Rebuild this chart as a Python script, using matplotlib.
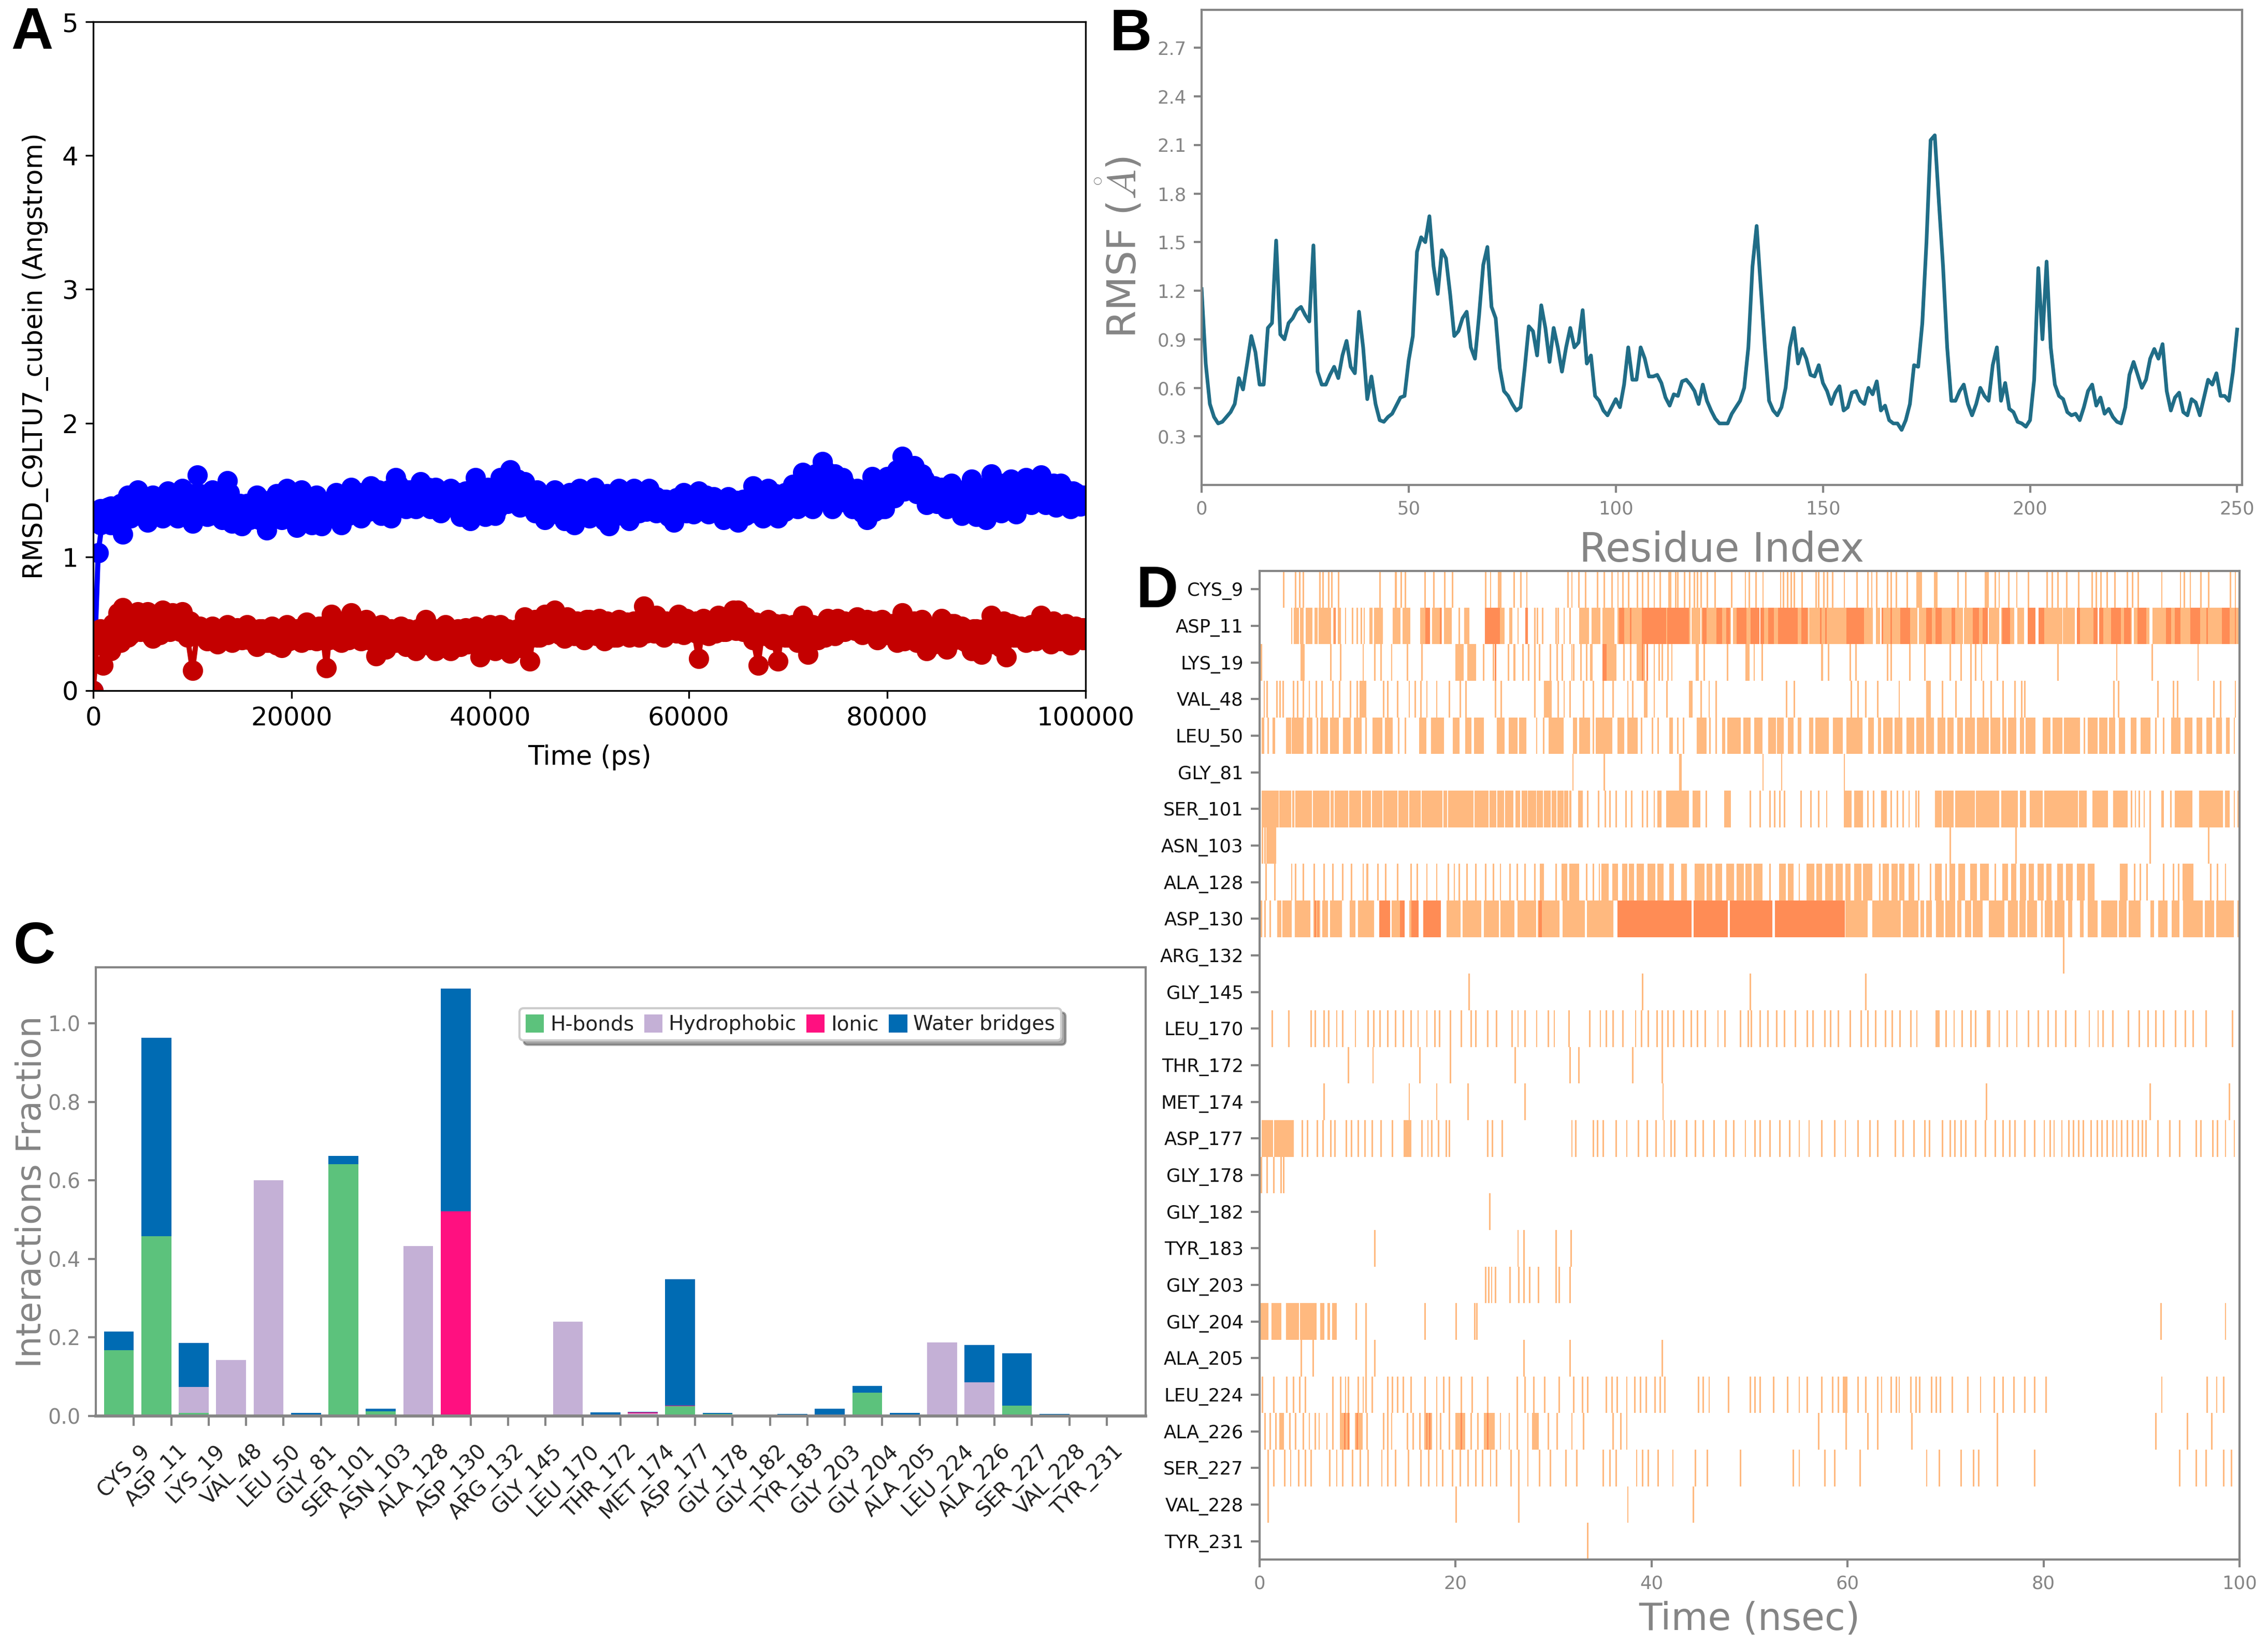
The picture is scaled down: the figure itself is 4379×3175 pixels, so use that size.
from matplotlib import pyplot as plt
from matplotlib.transforms import ScaledTranslation
import numpy as np

# RMSD over time, one value every 500 ps, 5 ns per row
rmsd_blue = [
    0.00, 1.03, 1.31, 1.37, 1.25, 1.34, 1.17, 1.46, 1.32, 1.50,
    1.35, 1.26, 1.46, 1.36, 1.29, 1.49, 1.38, 1.29, 1.51, 1.36,
    1.25, 1.61, 1.42, 1.30, 1.50, 1.38, 1.28, 1.57, 1.25, 1.37,
    1.23, 1.40, 1.31, 1.46, 1.35, 1.20, 1.38, 1.47, 1.28, 1.51,
    1.36, 1.22, 1.50, 1.35, 1.24, 1.46, 1.23, 1.40, 1.31, 1.48,
    1.24, 1.38, 1.52, 1.36, 1.29, 1.42, 1.53, 1.38, 1.31, 1.45,
    1.29, 1.59, 1.43, 1.36, 1.50, 1.36, 1.56, 1.42, 1.36, 1.52,
    1.33, 1.42, 1.51, 1.37, 1.30, 1.49, 1.27, 1.59, 1.38, 1.30,
    1.46, 1.31, 1.59, 1.45, 1.65, 1.43, 1.37, 1.56, 1.40, 1.33,
    1.47, 1.28, 1.39, 1.50, 1.34, 1.27, 1.48, 1.24, 1.51, 1.36,
    1.29, 1.52, 1.40, 1.27, 1.23, 1.38, 1.51, 1.36, 1.27, 1.51,
    1.33, 1.42, 1.51, 1.38, 1.34, 1.43, 1.30, 1.26, 1.38, 1.48,
    1.36, 1.32, 1.49, 1.38, 1.32, 1.45, 1.36, 1.28, 1.45, 1.37,
    1.26, 1.43, 1.35, 1.53, 1.40, 1.29, 1.51, 1.37, 1.29, 1.45,
    1.36, 1.54, 1.36, 1.63, 1.46, 1.36, 1.58, 1.71, 1.50, 1.36,
    1.45, 1.59, 1.42, 1.36, 1.51, 1.33, 1.28, 1.60, 1.42, 1.36,
    1.60, 1.48, 1.65, 1.75, 1.52, 1.62, 1.47, 1.62, 1.39, 1.50,
    1.40, 1.52, 1.36, 1.55, 1.40, 1.31, 1.50, 1.58, 1.30, 1.48,
    1.28, 1.62, 1.45, 1.33, 1.52, 1.58, 1.32, 1.47, 1.59, 1.39,
    1.50, 1.61, 1.39, 1.50, 1.37, 1.55, 1.40, 1.36, 1.48, 1.38,
    1.45]
rmsd_red = [
    0.00, 0.45, 0.19, 0.40, 0.50, 0.58, 0.62, 0.40, 0.52, 0.59,
    0.47, 0.59, 0.39, 0.50, 0.60, 0.46, 0.58, 0.47, 0.59, 0.40,
    0.15, 0.44, 0.47, 0.37, 0.48, 0.35, 0.42, 0.49, 0.36, 0.47,
    0.38, 0.49, 0.40, 0.33, 0.46, 0.36, 0.48, 0.34, 0.32, 0.49,
    0.40, 0.46, 0.36, 0.51, 0.42, 0.37, 0.48, 0.17, 0.57, 0.43,
    0.36, 0.47, 0.58, 0.42, 0.37, 0.53, 0.40, 0.26, 0.49, 0.31,
    0.46, 0.36, 0.48, 0.33, 0.44, 0.30, 0.47, 0.53, 0.38, 0.30,
    0.44, 0.49, 0.30, 0.42, 0.33, 0.47, 0.37, 0.48, 0.25, 0.41,
    0.49, 0.30, 0.49, 0.38, 0.28, 0.45, 0.32, 0.55, 0.22, 0.53,
    0.40, 0.57, 0.44, 0.60, 0.42, 0.39, 0.52, 0.41, 0.50, 0.38,
    0.53, 0.42, 0.54, 0.37, 0.48, 0.40, 0.53, 0.45, 0.40, 0.52,
    0.40, 0.63, 0.50, 0.43, 0.52, 0.40, 0.51, 0.44, 0.57, 0.42,
    0.52, 0.45, 0.24, 0.54, 0.41, 0.50, 0.56, 0.44, 0.52, 0.60,
    0.60, 0.44, 0.52, 0.38, 0.19, 0.47, 0.53, 0.38, 0.22, 0.50,
    0.40, 0.49, 0.36, 0.56, 0.27, 0.49, 0.38, 0.49, 0.54, 0.42,
    0.54, 0.45, 0.50, 0.46, 0.55, 0.42, 0.53, 0.45, 0.38, 0.53,
    0.42, 0.50, 0.36, 0.58, 0.44, 0.48, 0.36, 0.53, 0.30, 0.47,
    0.36, 0.54, 0.31, 0.50, 0.40, 0.48, 0.36, 0.30, 0.46, 0.27,
    0.42, 0.56, 0.46, 0.32, 0.25, 0.50, 0.40, 0.48, 0.36, 0.49,
    0.37, 0.56, 0.43, 0.35, 0.49, 0.37, 0.50, 0.34, 0.48, 0.40,
    0.47]

# the frames in between, per ns: middle, upper and lower part of each band
rmsd_blue_mid = [
    1.30, 1.32, 1.33, 1.36, 1.38, 1.38, 1.38, 1.39, 1.39, 1.38,
    1.40, 1.39, 1.38, 1.40, 1.36, 1.34, 1.35, 1.33, 1.36, 1.38,
    1.36, 1.35, 1.34, 1.33, 1.36, 1.38, 1.39, 1.40, 1.40, 1.42,
    1.44, 1.45, 1.45, 1.44, 1.43, 1.42, 1.42, 1.40, 1.40, 1.42,
    1.44, 1.47, 1.50, 1.47, 1.42, 1.39, 1.38, 1.38, 1.38, 1.38,
    1.38, 1.38, 1.38, 1.39, 1.39, 1.39, 1.38, 1.38, 1.37, 1.38,
    1.40, 1.40, 1.38, 1.36, 1.36, 1.36, 1.38, 1.40, 1.40, 1.40,
    1.42, 1.46, 1.50, 1.53, 1.50, 1.47, 1.45, 1.42, 1.40, 1.42,
    1.47, 1.55, 1.58, 1.52, 1.46, 1.44, 1.42, 1.42, 1.43, 1.42,
    1.45, 1.47, 1.46, 1.48, 1.50, 1.48, 1.48, 1.48, 1.45, 1.43]
rmsd_blue_upper = [
    1.36, 1.38, 1.40, 1.43, 1.45, 1.44, 1.44, 1.45, 1.46, 1.47,
    1.47, 1.48, 1.46, 1.48, 1.40, 1.38, 1.43, 1.42, 1.44, 1.46,
    1.45, 1.44, 1.43, 1.40, 1.45, 1.47, 1.48, 1.48, 1.50, 1.50,
    1.54, 1.50, 1.52, 1.52, 1.49, 1.47, 1.48, 1.46, 1.50, 1.52,
    1.53, 1.56, 1.58, 1.52, 1.50, 1.44, 1.46, 1.46, 1.46, 1.47,
    1.48, 1.47, 1.46, 1.47, 1.48, 1.47, 1.45, 1.43, 1.44, 1.45,
    1.46, 1.46, 1.43, 1.43, 1.42, 1.42, 1.46, 1.49, 1.47, 1.48,
    1.50, 1.58, 1.62, 1.65, 1.62, 1.55, 1.50, 1.47, 1.52, 1.54,
    1.56, 1.65, 1.68, 1.58, 1.53, 1.48, 1.48, 1.50, 1.52, 1.52,
    1.55, 1.55, 1.53, 1.54, 1.55, 1.55, 1.55, 1.52, 1.49, 1.46]
rmsd_blue_lower = [
    1.24, 1.24, 1.26, 1.29, 1.31, 1.32, 1.31, 1.32, 1.32, 1.31,
    1.32, 1.31, 1.30, 1.31, 1.29, 1.28, 1.28, 1.27, 1.30, 1.33,
    1.30, 1.28, 1.28, 1.29, 1.30, 1.31, 1.34, 1.34, 1.34, 1.34,
    1.37, 1.39, 1.40, 1.39, 1.38, 1.37, 1.37, 1.33, 1.33, 1.35,
    1.36, 1.40, 1.44, 1.42, 1.36, 1.33, 1.32, 1.30, 1.30, 1.30,
    1.31, 1.30, 1.31, 1.33, 1.33, 1.34, 1.33, 1.33, 1.31, 1.33,
    1.36, 1.36, 1.34, 1.31, 1.31, 1.31, 1.33, 1.34, 1.34, 1.34,
    1.38, 1.41, 1.43, 1.44, 1.42, 1.41, 1.40, 1.38, 1.34, 1.36,
    1.44, 1.49, 1.52, 1.46, 1.42, 1.40, 1.38, 1.36, 1.37, 1.36,
    1.37, 1.40, 1.42, 1.45, 1.44, 1.44, 1.43, 1.42, 1.41, 1.40]
rmsd_red_mid = [
    0.42, 0.38, 0.42, 0.46, 0.50, 0.48, 0.48, 0.50, 0.50, 0.50,
    0.46, 0.43, 0.42, 0.42, 0.42, 0.42, 0.43, 0.42, 0.42, 0.42,
    0.42, 0.44, 0.44, 0.44, 0.44, 0.45, 0.46, 0.44, 0.40, 0.41,
    0.42, 0.40, 0.40, 0.40, 0.40, 0.40, 0.41, 0.40, 0.40, 0.39,
    0.40, 0.41, 0.40, 0.44, 0.46, 0.48, 0.50, 0.50, 0.48, 0.48,
    0.46, 0.46, 0.46, 0.46, 0.46, 0.48, 0.50, 0.48, 0.48, 0.49,
    0.48, 0.47, 0.48, 0.48, 0.50, 0.50, 0.47, 0.46, 0.45, 0.45,
    0.44, 0.46, 0.44, 0.44, 0.45, 0.48, 0.49, 0.49, 0.48, 0.48,
    0.44, 0.42, 0.44, 0.42, 0.41, 0.42, 0.43, 0.42, 0.40, 0.40,
    0.41, 0.45, 0.45, 0.43, 0.43, 0.44, 0.45, 0.44, 0.43, 0.43]
rmsd_red_upper = [
    0.46, 0.46, 0.52, 0.56, 0.56, 0.55, 0.55, 0.55, 0.54, 0.52,
    0.48, 0.46, 0.44, 0.44, 0.45, 0.45, 0.46, 0.46, 0.46, 0.46,
    0.46, 0.48, 0.48, 0.50, 0.50, 0.52, 0.50, 0.48, 0.46, 0.46,
    0.46, 0.46, 0.46, 0.48, 0.46, 0.46, 0.46, 0.45, 0.45, 0.44,
    0.45, 0.46, 0.46, 0.50, 0.53, 0.54, 0.55, 0.55, 0.52, 0.53,
    0.52, 0.52, 0.51, 0.51, 0.52, 0.54, 0.56, 0.52, 0.52, 0.54,
    0.52, 0.52, 0.52, 0.53, 0.54, 0.55, 0.51, 0.50, 0.50, 0.49,
    0.48, 0.52, 0.47, 0.48, 0.50, 0.52, 0.52, 0.52, 0.52, 0.51,
    0.48, 0.48, 0.52, 0.48, 0.46, 0.47, 0.50, 0.47, 0.46, 0.46,
    0.48, 0.52, 0.49, 0.47, 0.48, 0.50, 0.52, 0.48, 0.47, 0.47]
rmsd_red_lower = [
    0.34, 0.30, 0.36, 0.42, 0.44, 0.42, 0.42, 0.44, 0.44, 0.44,
    0.42, 0.39, 0.38, 0.38, 0.39, 0.38, 0.38, 0.36, 0.36, 0.37,
    0.37, 0.38, 0.38, 0.38, 0.37, 0.38, 0.40, 0.38, 0.34, 0.35,
    0.37, 0.36, 0.35, 0.34, 0.35, 0.35, 0.36, 0.35, 0.34, 0.33,
    0.34, 0.36, 0.35, 0.38, 0.40, 0.42, 0.45, 0.44, 0.43, 0.43,
    0.41, 0.41, 0.40, 0.41, 0.41, 0.43, 0.44, 0.43, 0.43, 0.44,
    0.43, 0.42, 0.43, 0.44, 0.45, 0.45, 0.43, 0.41, 0.39, 0.40,
    0.39, 0.41, 0.40, 0.40, 0.41, 0.44, 0.45, 0.46, 0.44, 0.43,
    0.40, 0.37, 0.38, 0.36, 0.35, 0.36, 0.38, 0.37, 0.35, 0.34,
    0.35, 0.38, 0.40, 0.39, 0.38, 0.39, 0.40, 0.39, 0.38, 0.38]

rmsf = [
    1.21, 0.75, 0.50, 0.42, 0.38, 0.39, 0.42, 0.45, 0.50, 0.66,
    0.59, 0.75, 0.92, 0.82, 0.62, 0.62, 0.97, 1.00, 1.51, 0.93,
    0.90, 1.00, 1.03, 1.08, 1.10, 1.05, 1.01, 1.48, 0.70, 0.62,
    0.62, 0.68, 0.73, 0.66, 0.80, 0.89, 0.73, 0.69, 1.07, 0.85,
    0.53, 0.67, 0.50, 0.40, 0.39, 0.42, 0.44, 0.49, 0.54, 0.55,
    0.77, 0.92, 1.44, 1.53, 1.50, 1.66, 1.35, 1.18, 1.45, 1.40,
    1.18, 0.92, 0.95, 1.03, 1.07, 0.85, 0.78, 1.05, 1.36, 1.47,
    1.10, 1.03, 0.72, 0.58, 0.55, 0.50, 0.46, 0.48, 0.72, 0.98,
    0.95, 0.80, 1.11, 0.97, 0.76, 0.97, 0.85, 0.70, 0.85, 0.97,
    0.85, 0.88, 1.08, 0.75, 0.80, 0.55, 0.52, 0.46, 0.43, 0.48,
    0.53, 0.48, 0.62, 0.85, 0.65, 0.65, 0.85, 0.78, 0.67, 0.67,
    0.68, 0.63, 0.54, 0.49, 0.56, 0.55, 0.64, 0.65, 0.62, 0.58,
    0.50, 0.62, 0.52, 0.46, 0.41, 0.38, 0.38, 0.38, 0.44, 0.48,
    0.52, 0.60, 0.85, 1.35, 1.60, 1.22, 0.85, 0.52, 0.46, 0.43,
    0.48, 0.60, 0.85, 0.97, 0.75, 0.84, 0.78, 0.68, 0.67, 0.74,
    0.63, 0.58, 0.50, 0.57, 0.61, 0.46, 0.48, 0.57, 0.58, 0.52,
    0.50, 0.60, 0.56, 0.64, 0.46, 0.49, 0.40, 0.38, 0.38, 0.34,
    0.40, 0.50, 0.74, 0.73, 1.00, 1.50, 2.13, 2.16, 1.75, 1.35,
    0.85, 0.52, 0.52, 0.58, 0.62, 0.50, 0.43, 0.50, 0.60, 0.55,
    0.52, 0.74, 0.85, 0.52, 0.63, 0.47, 0.45, 0.39, 0.38, 0.36,
    0.40, 0.65, 1.34, 0.90, 1.38, 0.85, 0.62, 0.55, 0.53, 0.45,
    0.43, 0.44, 0.40, 0.48, 0.58, 0.62, 0.49, 0.54, 0.44, 0.47,
    0.42, 0.39, 0.38, 0.48, 0.68, 0.76, 0.68, 0.60, 0.65, 0.78,
    0.84, 0.78, 0.87, 0.58, 0.46, 0.54, 0.57, 0.45, 0.43, 0.53,
    0.51, 0.43, 0.54, 0.65, 0.62, 0.69, 0.55, 0.55, 0.52, 0.70,
    0.96]

residues = ['CYS_9', 'ASP_11', 'LYS_19', 'VAL_48', 'LEU_50', 'GLY_81', 'SER_101', 'ASN_103',
            'ALA_128', 'ASP_130', 'ARG_132', 'GLY_145', 'LEU_170', 'THR_172', 'MET_174',
            'ASP_177', 'GLY_178', 'GLY_182', 'TYR_183', 'GLY_203', 'GLY_204', 'ALA_205',
            'LEU_224', 'ALA_226', 'SER_227', 'VAL_228', 'TYR_231']
hbonds = [0.168, 0.458, 0.008, 0, 0, 0.002, 0.642, 0.012, 0, 0.002, 0, 0, 0, 0.002, 0.002,
          0.025, 0.005, 0, 0, 0.002, 0.060, 0, 0, 0, 0.027, 0, 0]
hydrophobic = [0, 0, 0.066, 0.142, 0.600, 0, 0, 0, 0.433, 0, 0, 0, 0.240, 0, 0.004,
               0, 0, 0, 0, 0, 0, 0, 0.188, 0.086, 0, 0, 0]
ionic = [0, 0, 0, 0, 0, 0, 0, 0, 0, 0.520, 0, 0, 0, 0, 0.003,
         0.002, 0, 0, 0, 0, 0, 0, 0, 0, 0, 0, 0]
water_bridges = [0.047, 0.505, 0.112, 0, 0, 0.006, 0.020, 0.006, 0, 0.567, 0, 0.003, 0, 0.007, 0.001,
                 0.321, 0.003, 0, 0.005, 0.016, 0.017, 0.008, 0, 0.095, 0.133, 0.005, 0]

# contact timeline in ns: a float is a single frame, a tuple is a (start, end) stretch
contacts = [
    # CYS_9
    [2.4, 3.6, 4.0, 4.4, 6.1, 6.4, 7.0, 7.3, 8.0, 12.2, (13.8, 14.0), 14.4, 14.8, 16.8, 17.7, 18.8, 19.6,
     23.0, 23.5, (24.3, 24.7), 25.9, 26.6, 27.2, 31.4, 31.8, 32.5, 33.2, 34.4, 35.1, 35.9, 36.5, 37.0, 37.6,
     38.5, 39.0, 39.6, 40.2, 40.8, (41.7, 42.0), 42.4, 42.6, 43.3, (43.8, 44.0), 44.3, 44.6, 45.0, 45.6, 46.4,
     48.1, 49.5, 49.9, 50.6, 51.3, 53.1, 53.4, 53.8, 54.2, 54.5, 55.3, 56.7, 57.0, 57.5, 57.9, 58.4, 59.6,
     60.9, 62.0, 62.4, 62.9, 64.0, 64.4, 64.9, 66.0, (67.0, 67.6), (68.8, 69.2), 71.2, 72.0, (74.0, 74.4), 75.0, 75.4,
     76.4, 77.2, 78.4, 80.3, 80.8, 81.4, 82.3, 83.5, 84.9, 85.3, 85.8, 86.4, 87.2, 88.5, 89.0, 89.6, 92.0,
     93.9, 94.3, 94.9, 96.0, 96.8, 99.0, 99.5],
    # ASP_11
    [3.2, (3.5, 4.0), (4.1, 4.5), (4.7, 5.4), (5.6, 5.9), (6.0, 7.3), 7.5, (8.0, 8.3), 8.7, 9.4, 9.9, 10.3, 10.6,
     (11.2, 11.5), (11.7, 12.6), (13.6, 14.4), (14.6, 15.4), (16.4, 17.4), (17.6, 18.6), (18.8, 19.6), 20.3, (20.9, 21.4),
     (23.0, 25.0), (25.5, 25.8), 26.3, (27.1, 27.4), 28.0, 28.3, 28.8, 30.2, 30.4, 31.0, 31.6, (32.6, 33.6), (33.9, 34.8),
     (35.0, 36.2), (36.5, 44.0), (44.1, 45.0), (45.1, 48.1), (48.3, 51.0), (51.1, 56.0), (56.1, 60.4), (60.5, 62.6),
     (62.9, 63.3), (63.6, 67.1), (67.3, 68.0), (68.4, 71.8), (71.9, 74.3), (74.4, 75.5), (75.7, 77.0), (77.3, 78.0),
     (78.4, 79.2), (79.5, 81.9), (82.0, 83.2), (83.4, 85.5), (85.7, 89.0), (89.2, 90.8), (91.1, 100.0)],
    # LYS_19
    [0.1, (4.2, 4.6), 7.2, 8.2, 10.5, 11.7, 12.3, 13.4, 15.0, 16.5, (20.0, 20.8), (21.2, 22.1), 22.8, 23.8,
     24.0, 25.3, (25.9, 26.1), 26.8, 27.4, 28.0, 28.5, 29.6, 30.3, 30.8, 31.8, 32.0, 32.7, 33.3, (33.7, 34.0),
     (35.0, 36.4), 37.1, 37.8, (38.5, 39.3), 40.2, 40.7, 41.0, 41.6, 42.0, (44.5, 44.8), 45.3, 47.7, (49.6, 50.0),
     50.4, 51.2, (57.3, 57.5), 58.0, 60.2, 60.8, 64.0, 64.4, 66.3, 67.8, 70.4, 71.5, 72.5, 73.0, 73.6, 75.2,
     81.4, 87.4, 91.0, 95.7],
    # VAL_48
    [0.4, 0.7, 1.7, 2.0, (2.3, 2.5), 3.4, 3.8, 4.4, 5.0, 5.7, 6.3, 7.4, 8.1, 9.2, 9.9, (10.2, 10.9), 12.6, 13.0, 14.0,
     15.2, 15.8, 16.4, 17.0, 18.0, 19.3, 20.4, 21.0, 24.0, 24.6, 28.0, (29.0, 29.8), 30.4, 31.0, 31.6, 33.0, 34.0,
     35.0, 36.0, 37.5, 38.0, (39.2, 39.6), 40.2, 41.5, (43.8, 44.2), 45.0, 45.8, 46.5, 53.7, 54.5, 60.3, 61.0, 61.8,
     63.0, 65.2, (68.0, 68.5), 69.6, 71.0, 72.5, 73.8, 74.6, 75.8, 77.0, 77.7, 78.0, 87.1, 87.6, 91.6, 93.2, 93.6, 97.3,
     98.0, 99.5],
    # LEU_50
    [(0.2, 0.5), 0.8, (1.3, 1.6), (2.7, 3.2), (3.3, 4.5), (4.8, 5.4), 5.8, (6.2, 7.0), (7.2, 8.1), (8.5, 9.3), (9.6, 10.4),
     10.8, (11.5, 12.5), (12.8, 13.6), 14.1, 14.8, (16.3, 17.0), (17.5, 18.8), (19.7, 20.4), (21.0, 21.6), (21.9, 22.9),
     (24.2, 25.0), (25.4, 26.3), (26.5, 27.2), 28.2, 28.9, (29.5, 31.0), (32.0, 32.4), (32.6, 33.7), 34.0, (34.3, 36.0), (36.5, 37.2),
     (37.5, 38.6), 38.9, 40.0, 40.6, (41.8, 42.2), 42.6, 43.2, (44.6, 45.6), 45.9, 46.5, (47.2, 47.5), (47.75, 49.1),
     (49.35, 50.1), (50.5, 51.3), (51.9, 52.7), (52.8, 53.5), (53.9, 54.5), (54.9, 55.3), (56.1, 56.5), (56.7, 58.1), (58.5, 59.5),
     (59.9, 61.5), (62.1, 62.7), (63.1, 63.4), (63.65, 64.6), (64.8, 65.6), (66.0, 66.8), (67.0, 67.8), (68.0, 68.8), (69.2, 70.0),
     (70.2, 70.8), (71.2, 71.8), (72.0, 73.0), (73.2, 74.4), (74.6, 75.6), (75.8, 76.2), (76.4, 77.2), (77.6, 78.0), (78.15, 79.15),
     (79.9, 80.7), (80.9, 81.9), (82.1, 83.7), 84.1, (84.5, 85.5), (85.7, 86.5), (86.7, 87.3), (87.7, 88.3), (88.9, 89.5), (89.9, 90.9),
     91.4, 92.2, (93.0, 94.0), (94.4, 95.2), (95.6, 96.2), (96.6, 97.2), (97.6, 98.2), (98.6, 99.0), 99.4],
    # GLY_81
    [31.9, 35.1, 42.8, 42.9, 51.3, 53.2, 59.6],
    # SER_101
    [(0.2, 1.95), (2.0, 3.25), (3.35, 3.55), (3.65, 5.35), (5.45, 7.15), (7.25, 7.55), (7.65, 9.05), (9.15, 10.35),
     (10.45, 11.35), (11.45, 12.55), (12.65, 14.05), (14.15, 15.15), (15.25, 16.45), (16.55, 18.65), (18.75, 19.15),
     (19.25, 21.85), (21.95, 23.35), (23.45, 24.15), (24.25, 24.95), (25.05, 25.9), (26.1, 26.6), (26.75, 27.3),
     (27.4, 28.2), (28.3, 28.9), (29.0, 29.7), (29.8, 30.3), (30.4, 31.0), (31.1, 31.5), (31.6, 31.8),
     (32.5, 33.0), 33.4, 34.5, 35.2, 35.7, 36.3, 37.3, 37.9, 39.0, 39.5, 40.2, (40.6, 41.0),
     (41.5, 43.8), (44.2, 45.0), 45.5, (47.4, 48.1), 50.0, 51.0, 52.0, 52.5, 53.0, 53.5, 55.2, 56.2, 57.0, 57.8,
     (59.6, 60.4), (60.7, 61.6), 62.0, 62.6, (63.4, 64.0), 64.4, 65.0, 65.6, 66.2, 66.9, 67.2, (68.9, 69.6), (69.7, 70.8),
     (71.0, 73.0), (73.1, 75.5), (75.7, 77.4), (77.6, 78.2), (78.6, 79.9), (80.1, 83.5), (83.6, 84.4), (85.0, 86.6), (87.1, 88.6),
     88.9, 89.3, 89.7, 90.2, 90.8, (92.0, 92.3), 92.9, (93.4, 95.2), (95.9, 98.3), (98.5, 99.0), 99.4, 99.8],
    # ASN_103
    [0.2, 0.5, (0.7, 1.7), 70.4, 77.1, 90.8, 96.8],
    # ALA_128
    [0.6, 1.5, 3.2, 3.6, 4.4, 5.5, 6.5, 7.4, 8.4, 9.3, 10.5, (10.9, 11.1), 12.0, 12.8, 14.0, 15.4, 16.0, 17.0, 18.0, 19.2,
     19.8, 20.3, 21.1, 22.0, 23.0, 23.8, 24.5, 25.5, 26.2, 27.0, 28.0, (28.6, 29.0), 30.2, (30.8, 31.4), (31.6, 32.6), 33.3,
     34.0, 34.6, (34.9, 35.6), (36.0, 36.6), (37.0, 37.5), (37.7, 38.2), (38.5, 39.2), (39.6, 40.4), (40.6, 41.2), (41.8, 42.3), (43.0, 43.6),
     (44.4, 45.4), (45.6, 46.2), (46.5, 47.2), (47.6, 48.4), (48.7, 49.4), (49.6, 50.2), (50.4, 51.3), 52.0, (53.0, 53.7), (53.9, 54.5), 55.0,
     (55.8, 56.6), (56.8, 57.4), (57.7, 58.5), (58.8, 59.5), (59.8, 60.3), (60.7, 61.4), (61.6, 62.5), 63.2, (63.6, 64.2), (64.5, 65.1),
     (65.3, 65.8), (66.2, 66.8), 67.2, 68.4, (68.9, 69.6), 70.0, (70.4, 71.0), (71.3, 72.0), (72.5, 73.2), (73.5, 74.4), 75.0, (75.8, 76.4),
     (76.7, 77.2), (77.6, 78.2), (78.5, 79.0), (79.4, 80.0), (80.3, 80.8), (81.4, 82.0), (82.3, 83.0), (83.4, 84.2), (84.5, 85.2), (87.8, 88.6),
     89.2, 89.8, 90.5, 92.2, 93.2, 93.7, (94.2, 95.3), 97.0, 97.7, 98.5, 99.9],
    # ASP_130
    [0.1, 0.5, 1.0, (1.8, 2.2), (2.3, 3.3), (3.6, 5.2), (5.5, 6.2), (6.4, 7.0), (7.2, 8.4), (9.2, 9.8), (10.05, 11.7), (12.2, 13.3),
     (13.5, 14.8), (15.3, 16.2), (16.7, 18.5), (19.1, 20.5), (20.7, 22.6), (22.9, 24.4), (24.6, 26.0), (26.3, 28.2), (28.4, 30.6), (30.9, 33.2),
     (33.4, 36.1), (36.5, 44.1), (44.3, 47.8), (48.0, 52.3), (52.6, 59.7), (59.8, 62.06), (62.54, 65.44), (65.64, 67.23), (67.43, 67.82),
     (68.02, 68.62), (69.01, 69.81), (70.0, 71.0), (71.2, 71.6), (72.0, 72.6), (72.8, 73.8), (74.4, 76.0), (76.4, 77.36), (77.56, 78.15),
     (78.35, 79.35), (79.74, 79.94), (80.14, 80.94), (81.13, 82.13), (82.53, 82.92), (83.72, 84.1), (84.5, 85.5), (85.9, 87.5), (87.7, 88.5),
     (88.7, 89.9), (90.9, 91.3), (91.7, 92.66), (93.06, 93.85), (94.25, 96.24), (96.44, 97.43), (97.63, 99.4), 99.8],
    # ARG_132
    [82.0],
    # GLY_145
    [21.3, 39.0, 50.0, 61.8],
    # LEU_170
    [1.2, 2.9, 5.2, 5.6, 6.5, 7.0, 7.8, 8.4, 9.7, 11.0, 11.6, 12.2, 13.0, 13.8, 14.6, 15.4, 16.1, 17.0, 17.8, 18.3, 19.4,
     20.5, 21.5, 22.0, 23.2, 24.1, 25.7, 26.3, 27.0, 28.2, 29.4, 30.0, 31.5, 33.6, 34.7, 35.3, 36.0, 37.0, 38.3, 38.9, 39.6, 40.5,
     41.0, 41.6, 42.2, 43.2, 44.0, 44.6, 45.4, 46.7, 47.4, 49.0, 49.8, 50.1, 51.0, 51.8, 52.7, 53.5, 54.6, 55.8, 56.4, 57.6, 58.2,
     59.0, 60.2, 61.3, 62.0, 62.8, 63.8, 64.5, 65.3, 66.4, 67.0, (69.0, 69.4), 70.0, 70.8, 71.6, 72.5, 73.0, (74.2, 74.6), 75.4, 76.2, 77.2, 78.4,
     79.4, 80.4, 81.2, 82.2, 83.2, 84.6, 85.5, 86.0, 87.0, 88.6, 89.7, 90.6, 91.4, 92.2, 93.4, 94.4, 95.2, 96.5, 99.2, 99.9],
    # THR_172
    [9.0, 11.5, 16.3, 19.4, 26.0, 31.6, 32.5, 38.0, 41.0],
    # MET_174
    [6.5, 15.2, 18.0, 21.2, 27.0, 41.1, 74.1, 90.8, 98.9],
    # ASP_177
    [(0.2, 1.4), (1.5, 3.5), 4.3, 4.8, 5.8, 6.4, 7.2, 7.6, 8.8, 9.3, 10.0, 10.7, 11.4, 12.3, 13.5, (14.7, 15.5), 16.5, 17.1, 17.5, 18.2,
     19.0, 19.3, 23.2, 23.7, 24.7, 31.8, 32.2, 34.0, 34.4, 35.0, 36.3, 37.4, 38.6, 39.5, 40.4, 41.2, 41.9, 42.3, 43.5, 44.4, 45.2, 46.3,
     47.5, 48.3, 49.5, 50.5, 51.0, 52.0, 53.0, 54.0, 55.0, 56.0, 57.3, 58.6, 59.7, 61.0, 62.2, 63.0, 64.8, 65.6, 66.7, 67.8, 68.3,
     69.6, 70.4, 70.9, 71.5, 72.0, 73.0, 74.0, 75.0, 75.8, 76.5, 77.0, 78.0, 79.0, 80.0, 80.6, 81.0, 81.8, 82.5, 83.0, 83.5, 84.0, 84.8,
     85.4, 85.9, 86.4, 87.0, 87.4, 87.9, 88.5, 89.0, 89.6, 90.0, 90.4, 91.6, 92.8, 93.8, 95.5, 96.0, 97.2, 97.7, 98.5, 99.4],
    # GLY_178
    [0.1, 0.7, 1.4, 2.1, 2.4],
    # GLY_182
    [23.4],
    # TYR_183
    [11.7, 26.3, 26.9, 30.2, 31.7],
    # GLY_203
    [23.0, 23.3, 23.6, 24.0, 25.5, 26.4, 26.9, 27.5, 28.4, 30.2, 30.5, 31.6],
    # GLY_204
    [(0.0, 0.9), (1.2, 2.2), (2.7, 4.0), (4.1, 5.8), (6.2, 6.6), (6.9, 7.2), (7.4, 7.9), 9.8, 10.8, 16.8, 20.0, 21.9, 22.1, 91.9, 98.5],
    # ALA_205
    [4.2, 5.4, 10.8, 11.7, 26.9, 31.6, 41.0],
    # LEU_224
    [0.2, 1.4, 2.7, 3.4, 4.0, 4.6, 7.4, 8.2, 8.7, 9.0, 10.0, 10.5, 10.8, 11.4, 13.0, 13.5, 14.0, 14.6, 15.4, 16.8, 18.0, 18.7, 19.3, 20.5, 21.6, 23.2, 26.2,
     27.0, 27.9, 29.0, 30.5, 32.0, 32.9, 33.4, 35.3, 35.9, 36.4, 37.4, 38.2, 38.8, 39.4, 40.3, 40.8, 41.3, 44.7, 45.2, 45.8, 47.8, 50.0, 50.5, 51.0, 52.4, 53.8, 55.0,
     55.8, 57.3, 58.4, 59.0, (59.5, 60.0), 61.0, 61.8, 63.0, 63.4, 64.4, 64.9, 65.2, 66.4, 66.9, 67.3, 68.5, 69.0, 69.4, 70.6, 72.2, 73.5, 74.9, 75.8, 76.9, 78.0,
     79.0, 80.2, 92.0, 96.6, 97.6, 98.3],
    # ALA_226
    [0.5, 1.0, 1.6, (2.0, 2.5), 3.0, 3.6, 4.4, 5.0, 5.6, 6.0, 6.8, 7.4, (8.2, 9.2), (9.7, 10.5), 10.9, 12.6, 13.0, 13.4, 15.0, 15.6, 16.3, (16.8, 17.6), 18.0, 18.4, 19.3,
     (20.0, 21.0), 21.5, 22.2, (22.9, 24.0), 24.5, 25.4, 26.2, 27.3, (27.8, 28.5), 29.4, 30.3, 31.8, 33.0, 36.0, 36.8, 37.4, 57.0, 59.8,
     62.0, 63.0, 66.5, 75.2, 91.4, 94.6, 97.1, 99.9],
    # SER_227
    [0.8, 1.4, 2.5, 3.1, 3.9, 4.6, 5.2, 7.1, 7.8, 8.4, 9.4, 10.2, 11.0, 12.4, 13.0, 13.8, 15.1, 16.4, 17.2, 18.0, 18.6, 19.6, 20.4, 21.2,
     22.0, 22.7, 23.5, 24.1, 25.6, 26.4, 27.3, 28.5, 29.6, 31.2, 32.3, 35.0, 35.7, 36.3, 38.4, 39.0, 39.6, 40.6, 42.1, 44.4, 45.6, 49.0,
     54.4, 55.0, 57.6, 58.6, 61.2, 68.0, 69.3, 71.5, 72.8, 73.3, 75.2, 79.0, 93.8, 95.5, 96.5, 98.3, 99.1],
    # VAL_228
    [0.8, 20.0, 26.4, 37.5, 44.2],
    # TYR_231
    [33.4],
]

# stretches with overlapping interactions, drawn darker on top of the timeline
contacts_dark = {
    'ASP_11': [7.6, (16.9, 17.4), 18.4, (23.0, 24.5), (27.1, 27.4), (36.7, 37.2), 37.8, (39.0, 41.5), (41.6, 43.8), (45.2, 45.6), (46.6, 47.2), (47.6, 48.0),
               (48.7, 49.7), (50.1, 51.0), (51.1, 51.5), (51.9, 52.5), (52.9, 54.9), (55.3, 55.9), 57.2, 57.7, (59.9, 61.7), 63.5, 64.4,
               (65.4, 66.4), (68.0, 68.6), (69.0, 69.6), (70.6, 71.0), (72.8, 73.4), (73.8, 74.3), (75.8, 76.6), (78.4, 79.2), (79.5, 80.1),
               (83.4, 83.7), (85.1, 85.5), (85.7, 86.1), (86.9, 87.9), (88.2, 88.9), (89.6, 90.5), (92.5, 93.0), (93.4, 94.0), (95.0, 96.0),
               96.6, (98.2, 99.0), 99.5],
    'ASP_130': [5.6, 5.9, (12.2, 13.3), (14.3, 14.8), (15.5, 16.2), (16.7, 18.5), (28.5, 28.8), (36.5, 44.1), (44.3, 47.8), (48.0, 52.3),
                (52.6, 59.7)],
    'LYS_19': [24.0, (35.0, 35.4), 39.0, 39.5],
    'ALA_226': [8.6, 9.0, 9.9, 17.0, 17.3, 20.5, 23.2],
}

dpi = 300
fig_w, fig_h = 4379, 3175
grey = '#858585'


def make_axes(left, top, right, bottom):
    return fig.add_axes([left / fig_w, 1 - bottom / fig_h, (right - left) / fig_w, (bottom - top) / fig_h])


def grey_frame(ax, width=1.0):
    for spine in ax.spines.values():
        spine.set_color(grey)
        spine.set_linewidth(width)
    ax.tick_params(colors=grey, length=3.5, width=1.0, labelsize=8.5)


def to_spans(events):
    spans = []
    for event in events:
        if isinstance(event, tuple):
            spans.append((event[0], event[1] - event[0]))
        else:
            spans.append((event, 0.15))
    return spans


fig = plt.figure(figsize=(fig_w / dpi, fig_h / dpi), dpi=dpi)

# A: RMSD
ax_a = make_axes(180, 42, 2096, 1333)
time_ps = np.arange(len(rmsd_blue)) * 500
time_mid = np.arange(len(rmsd_blue_mid)) * 1000 + 750
for values in [rmsd_blue_mid, rmsd_blue_upper, rmsd_blue_lower]:
    ax_a.plot(time_mid, values, color='#0000ff', lw=2.4, marker='o', ms=8.4)
ax_a.plot(time_ps, rmsd_blue, color='#0000ff', lw=2.4, marker='o', ms=8.4)
for values in [rmsd_red_mid, rmsd_red_upper, rmsd_red_lower]:
    ax_a.plot(time_mid, values, color='#c40000', lw=2.4, marker='o', ms=8.4)
ax_a.plot(time_ps, rmsd_red, color='#c40000', lw=2.4, marker='o', ms=8.4)
ax_a.set_xlim(0, 100000)
ax_a.set_ylim(0, 5)
ax_a.set_xticks([0, 20000, 40000, 60000, 80000, 100000])
ax_a.set_yticks([0, 1, 2, 3, 4, 5])
ax_a.tick_params(labelsize=11.9, length=3.5, width=0.8)
ax_a.set_xlabel('Time (ps)', fontsize=12.2, labelpad=6.5)
ax_a.set_ylabel('RMSD_C9LTU7_cubein (Angstrom)', fontsize=12.2, labelpad=6)

# B: RMSF
ax_b = make_axes(2320, 19, 4329, 936)
ax_b.plot(np.arange(len(rmsf)), rmsf, color='#206d87', lw=1.7)
ax_b.set_xlim(0, 251.2)
ax_b.set_ylim(0, 2.935)
ax_b.set_xticks([0, 50, 100, 150, 200, 250])
ax_b.set_yticks([0.3, 0.6, 0.9, 1.2, 1.5, 1.8, 2.1, 2.4, 2.7])
grey_frame(ax_b)
ax_b.set_xlabel('Residue Index', fontsize=18.8, color=grey, labelpad=6)
ax_b.set_ylabel(r'RMSF ($\mathring{A}$)', fontsize=18.5, color=grey, labelpad=6, math_fontfamily='cm')

# C: interaction fractions
ax_c = make_axes(185, 1867, 2212, 2733)
pos = np.arange(len(residues))
bottom = np.zeros(len(residues))
series = [('H-bonds', hbonds, '#5cc27c'), ('Hydrophobic', hydrophobic, '#c4b0d6'),
          ('Ionic', ionic, '#ff1080'), ('Water bridges', water_bridges, '#006bb3')]
for name, values, colour in series:
    ax_c.bar(pos, values, 0.8, bottom=bottom, align='edge', color=colour, label=name)
    bottom += np.array(values)
ax_c.set_xlim(-0.216, 27.84)
ax_c.set_ylim(0, 1.143)
ax_c.set_xticks(pos + 0.8)
ax_c.set_xticklabels(residues, rotation=45, ha='right')
ax_c.set_yticks([0, 0.2, 0.4, 0.6, 0.8, 1.0])
grey_frame(ax_c)
ax_c.spines['bottom'].set_linewidth(1.4)
ax_c.tick_params(axis='y', labelsize=9.5)
ax_c.tick_params(axis='x', labelsize=9.8, labelcolor='#222222', length=4.5, pad=7)
for label in ax_c.get_xticklabels():
    label.set_transform(label.get_transform() + ScaledTranslation(40 / dpi, 0, fig.dpi_scale_trans))
ax_c.set_ylabel('Interactions Fraction', fontsize=15.9, color=grey, labelpad=0)
ax_c.legend(loc='center', bbox_to_anchor=(1526 / fig_w, 1 - 1977 / fig_h), bbox_transform=fig.transFigure, ncol=4,
            fontsize=9.4, fancybox=True, shadow=True, framealpha=1, handlelength=0.9, handleheight=1.0,
            handletextpad=0.3, columnspacing=0.5, borderpad=0.3, labelcolor='#222222')

# D: contact timeline
ax_d = make_axes(2432, 1102, 4324, 3010)
for row, events in enumerate(contacts):
    ax_d.broken_barh(to_spans(events), (row - 0.5, 1), facecolor='#ffb97f', linewidth=0)
    dark = contacts_dark.get(residues[row], [])
    if dark:
        ax_d.broken_barh(to_spans(dark), (row - 0.5, 1), facecolor='#ff8c55', linewidth=0)
ax_d.set_xlim(0, 100)
ax_d.set_ylim(len(residues) - 0.5, -0.5)
ax_d.set_yticks(np.arange(len(residues)))
ax_d.set_yticklabels(residues)
ax_d.set_xticks([0, 20, 40, 60, 80, 100])
grey_frame(ax_d)
ax_d.tick_params(axis='y', labelcolor='#111111', length=4, labelsize=8.5)
ax_d.tick_params(axis='x', length=3.5)
ax_d.set_xlabel('Time (nsec)', fontsize=17.5, color=grey, labelpad=4)

for letter, x, y in [('A', 62, 65), ('B', 2183, 68), ('C', 66, 1830), ('D', 2234, 1143)]:
    fig.text(x / fig_w, 1 - y / fig_h, letter, fontsize=27, fontweight='bold', family='Liberation Sans',
             ha='center', va='center')

plt.savefig('out.png', dpi=dpi)
plt.close()
